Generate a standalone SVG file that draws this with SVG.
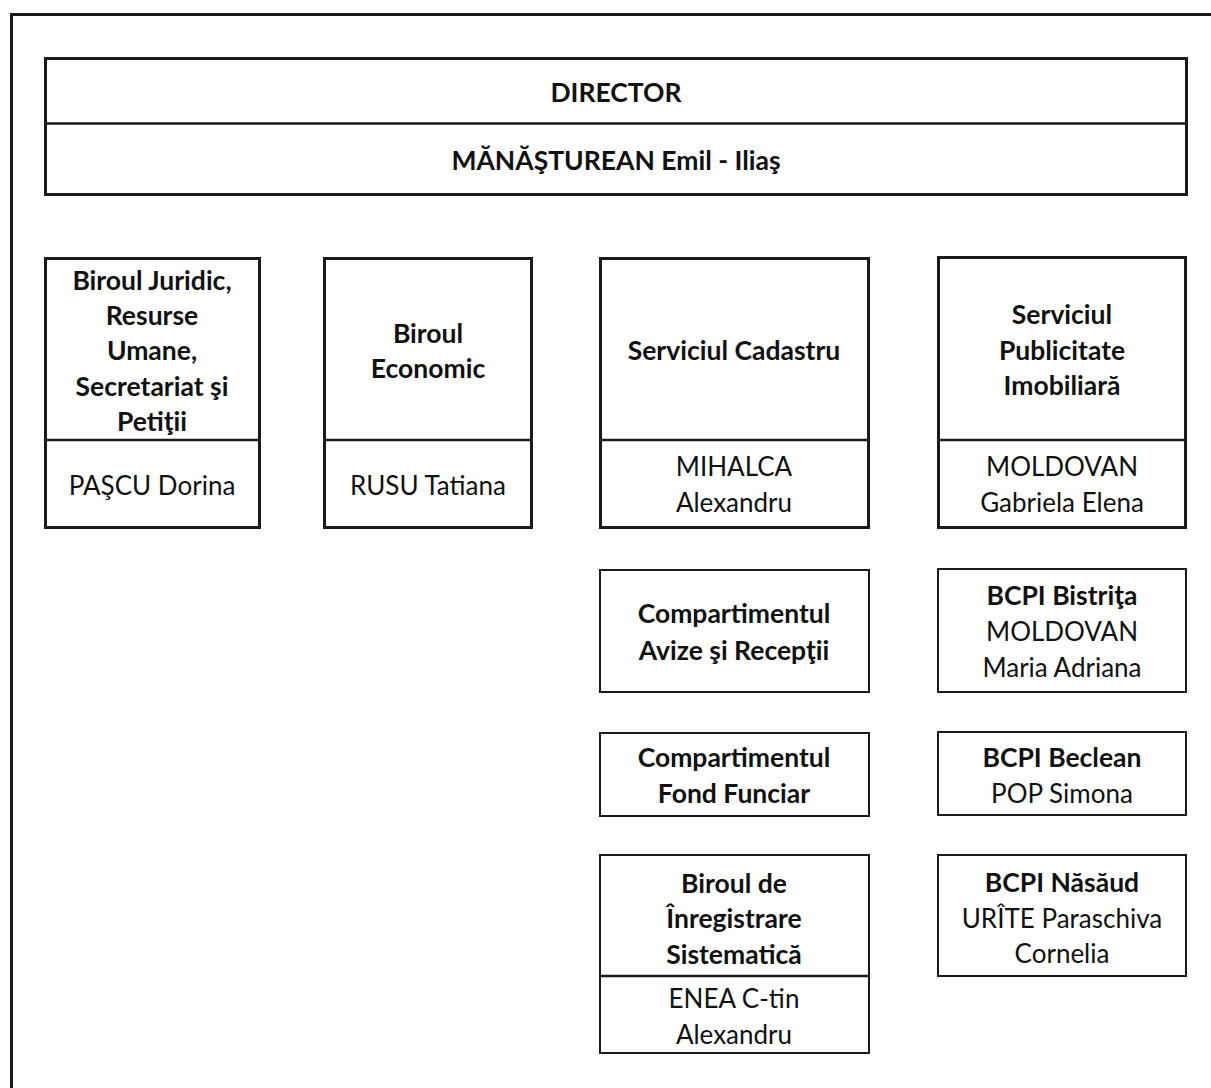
<svg xmlns="http://www.w3.org/2000/svg" width="1211" height="1088" viewBox="0 0 1211 1088">
<style>
.box{fill:#fff;stroke:#1a1a1a;stroke-width:3}
.sbox{fill:#fff;stroke:#1a1a1a;stroke-width:2}
.div{stroke:#1a1a1a;stroke-width:2.5}
text{font-family:Lato,"Open Sans","Liberation Sans",sans-serif;font-size:26px;fill:#111;text-anchor:middle;dominant-baseline:central}
.b{font-weight:bold;font-size:26.5px}
</style>
<rect width="1211" height="1088" fill="#fff"/>
<path d="M11.5 1088 V14.5 H1211" fill="none" stroke="#1a1a1a" stroke-width="3"/>
<g id="connectors"/>
<g id="director">
<rect class="box" x="45.5" y="58.5" width="1141" height="136"/>
<line class="div" x1="45" y1="123.5" x2="1187" y2="123.5"/>
<text class="b" x="616" y="92">DIRECTOR</text>
<text class="b" x="616" y="160">MĂNĂŞTUREAN Emil - Iliaş</text>
</g>
<g id="juridic">
<rect class="box" x="45.5" y="258.5" width="214" height="269"/>
<line class="div" x1="45" y1="440" x2="260" y2="440"/>
<text class="b" x="152" y="280">Biroul Juridic,</text>
<text class="b" x="152" y="315">Resurse</text>
<text class="b" x="152" y="350">Umane,</text>
<text class="b" x="152" y="386">Secretariat şi</text>
<text class="b" x="152" y="421">Petiţii</text>
<text x="152" y="485">PAŞCU Dorina</text>
</g>
<g id="economic">
<rect class="box" x="324.5" y="258.5" width="207" height="269"/>
<line class="div" x1="324" y1="440" x2="532" y2="440"/>
<text class="b" x="428" y="333">Biroul</text>
<text class="b" x="428" y="368">Economic</text>
<text x="428" y="485">RUSU Tatiana</text>
</g>
<g id="cadastru">
<rect class="box" x="600.5" y="258.5" width="268" height="269"/>
<line class="div" x1="600" y1="440" x2="869" y2="440"/>
<text class="b" x="734" y="350">Serviciul Cadastru</text>
<text x="734" y="466">MIHALCA</text>
<text x="734" y="502">Alexandru</text>
</g>
<g id="publicitate">
<rect class="box" x="938.5" y="257.5" width="247" height="270"/>
<line class="div" x1="938" y1="440" x2="1186" y2="440"/>
<text class="b" x="1062" y="314">Serviciul</text>
<text class="b" x="1062" y="350">Publicitate</text>
<text class="b" x="1062" y="385">Imobiliară</text>
<text x="1062" y="466">MOLDOVAN</text>
<text x="1062" y="502">Gabriela Elena</text>
</g>
<g id="avize">
<rect class="sbox" x="600" y="570" width="269" height="122"/>
<text class="b" x="734" y="613">Compartimentul</text>
<text class="b" x="734" y="650">Avize şi Recepţii</text>
</g>
<g id="bistrita">
<rect class="sbox" x="938" y="569" width="248" height="123"/>
<text class="b" x="1062" y="595">BCPI Bistriţa</text>
<text x="1062" y="631">MOLDOVAN</text>
<text x="1062" y="667">Maria Adriana</text>
</g>
<g id="fond">
<rect class="sbox" x="600" y="733" width="269" height="83"/>
<text class="b" x="734" y="757">Compartimentul</text>
<text class="b" x="734" y="793">Fond Funciar</text>
</g>
<g id="beclean">
<rect class="sbox" x="938" y="732" width="248" height="83"/>
<text class="b" x="1062" y="757">BCPI Beclean</text>
<text x="1062" y="793">POP Simona</text>
</g>
<g id="inregistrare">
<rect class="sbox" x="600" y="855" width="269" height="198"/>
<line class="div" x1="600" y1="976" x2="869" y2="976"/>
<text class="b" x="734" y="883">Biroul de</text>
<text class="b" x="734" y="918">Înregistrare</text>
<text class="b" x="734" y="954">Sistematică</text>
<text x="734" y="998">ENEA C-tin</text>
<text x="734" y="1034">Alexandru</text>
</g>
<g id="nasaud">
<rect class="sbox" x="938" y="855" width="248" height="121"/>
<text class="b" x="1062" y="882">BCPI Năsăud</text>
<text x="1062" y="918">URÎTE Paraschiva</text>
<text x="1062" y="953">Cornelia</text>
</g>
</svg>
